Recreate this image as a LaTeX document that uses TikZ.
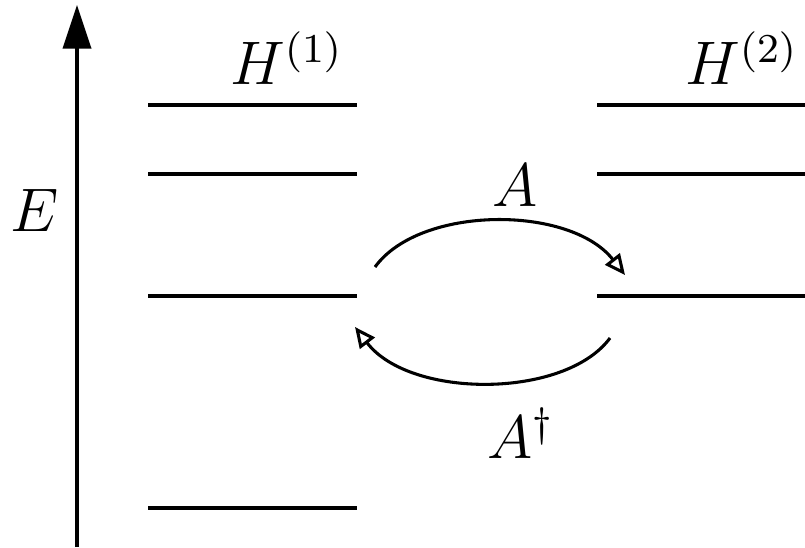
\documentclass[tikz,border=0pt]{standalone}
\usepackage{amsmath}
\usetikzlibrary{positioning, arrows.meta}

\begin{document}
\begin{tikzpicture}[
    x=0.195pt, y=-0.195pt,
    level/.style={semithick, line cap=butt},
    axis/.style={semithick, -{Triangle[length=8.5pt, width=5.5pt]}},
    hop/.style={semithick, -{Triangle[open, length=4pt, width=3.6pt]}},
    lbl/.style={font=\large, inner sep=0pt}
]
\useasboundingbox (0,0) rectangle (805,547);

% Energy axis
\coordinate (origin) at (77,547);
\coordinate (tip) at (77,5);
\draw[axis] (origin) -- (tip);
\node[lbl] (elabel) at (35,210) {$E$};

% Levels of H^(1) and H^(2)
\foreach \y [count=\i] in {105,174,296,508} {
    \coordinate (L\i w) at (148,\y);
    \coordinate (L\i e) at (357,\y);
    \draw[level] (L\i w) -- (L\i e);
}
\foreach \y [count=\i] in {105,174,296} {
    \coordinate (R\i w) at (597,\y);
    \coordinate (R\i e) at (805,\y);
    \draw[level] (R\i w) -- (R\i e);
}
\node[lbl] (hone) at (287,58) {$H^{(1)}$};
\node[lbl] (htwo) at (742,58) {$H^{(2)}$};

% Transitions
\coordinate (fromL) at (375,267);
\coordinate (toR) at (625,275);
\coordinate (fromR) at (610,338);
\coordinate (toL) at (355,327);
\draw[hop] (fromL) .. controls (420,205) and (570,205) .. (toR);
\draw[hop] (fromR) .. controls (565,399) and (410,399) .. (toL);
\node[lbl] (aop) at (515,185) {$A$};
\node[lbl] (adag) at (521,433) {$A^{\dagger}$};
\end{tikzpicture}
\end{document}
